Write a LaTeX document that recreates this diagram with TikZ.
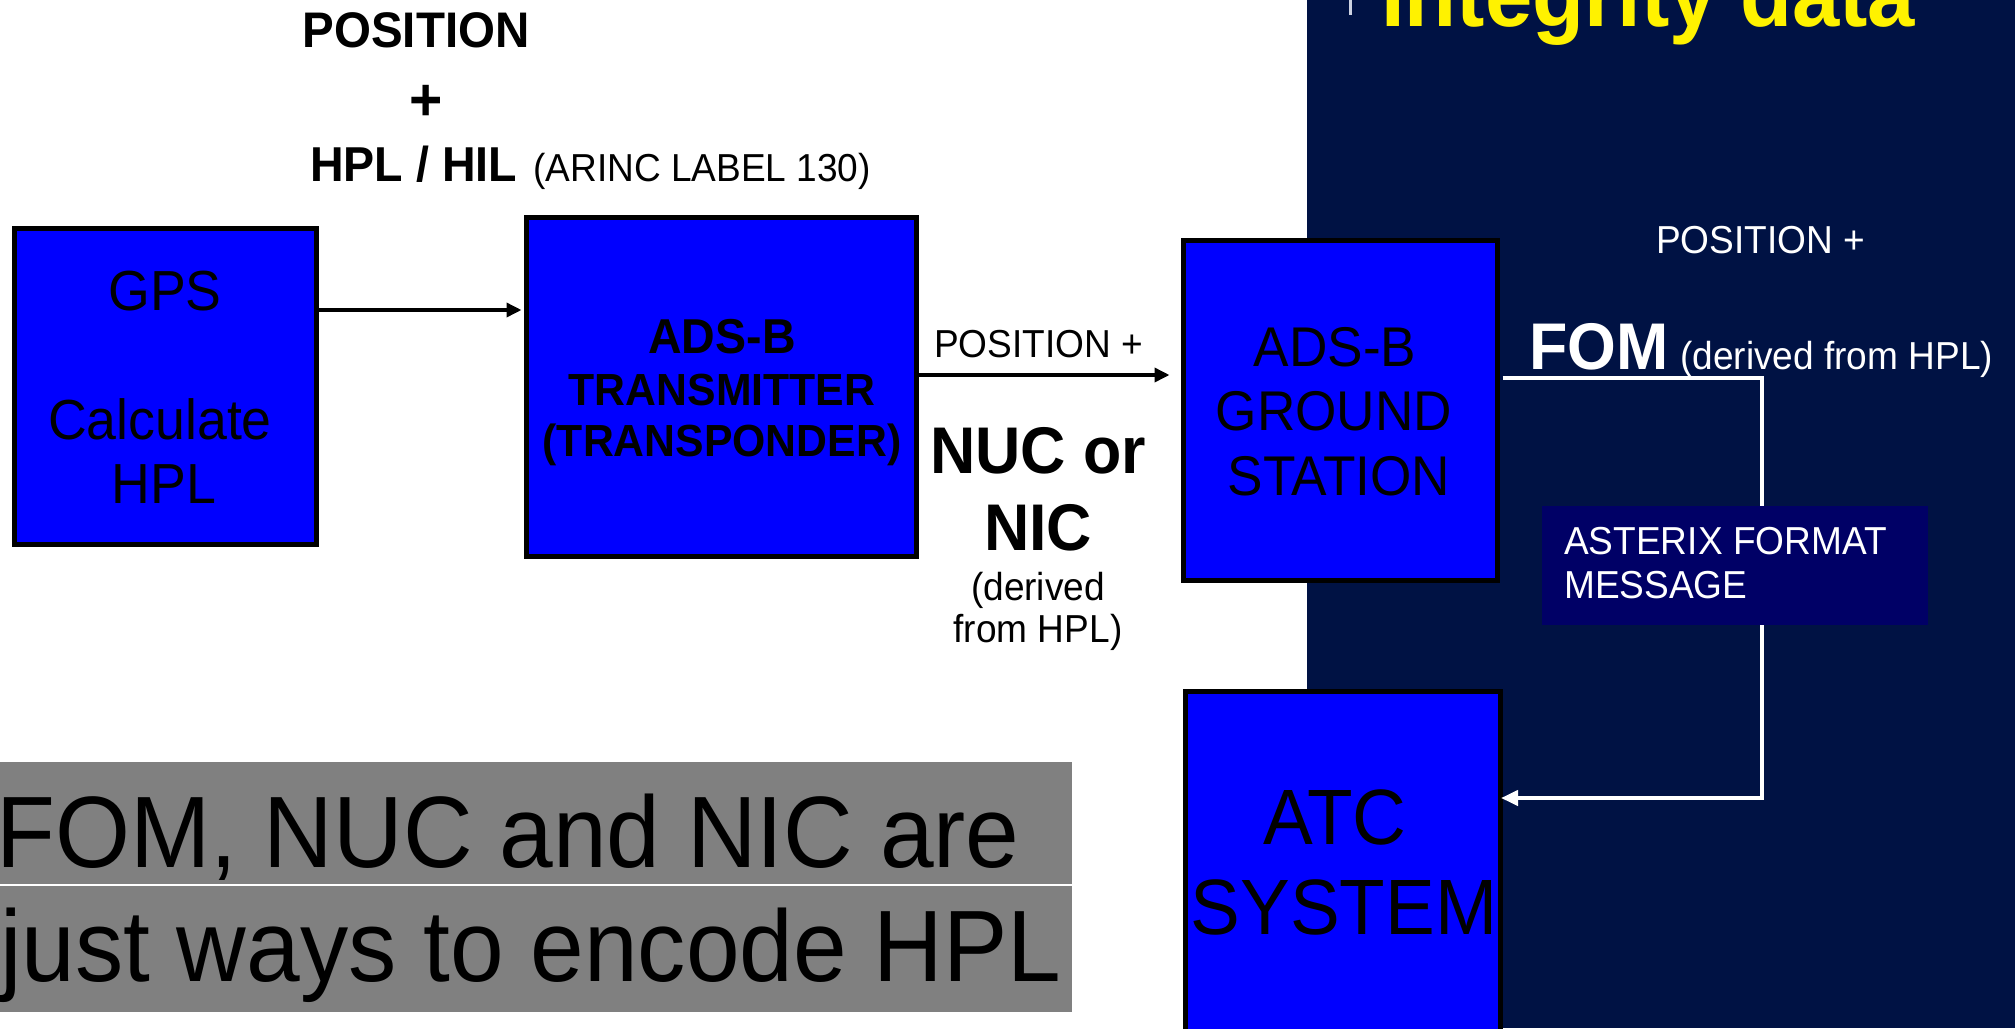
\documentclass[tikz,border=0pt]{standalone}
\usepackage{fontspec}
\setmainfont{Liberation Sans}[FakeStretch=0.95]
\usetikzlibrary{arrows.meta}
\definecolor{panelnavy}{RGB}{0,18,68}
\definecolor{msgnavy}{RGB}{0,0,102}
\definecolor{boxblue}{RGB}{0,0,255}
\definecolor{bandgray}{RGB}{128,128,128}
\definecolor{tickgray}{RGB}{205,210,225}
\newcommand\setfs[1]{\fontsize{#1}{#1}\selectfont}

\begin{document}
\begin{tikzpicture}[x=1pt,y=-1pt,
  unit/.style={draw=black, line width=5pt, fill=boxblue, inner sep=0pt},
  lbl/.style={inner sep=0pt, anchor=base},
  lblw/.style={inner sep=0pt, anchor=base west},
  flow/.style={line width=3.5pt, -{Triangle[length=15pt,width=14pt]}},
  wflow/.style={draw=white, line width=4pt},
]
\useasboundingbox (0,0) rectangle (2015,1028);
\clip (0,0) rectangle (2015,1028);
\fill[white] (0,0) rectangle (2015,1028);

% ground-side panel
\fill[panelnavy] (1307,0) rectangle (2015,1028);
\draw[tickgray, line width=3pt] (1350,0) -- (1350,15);
\node[lblw, text=yellow, font=\setfs{89.5}\bfseries] (title) at (1381,26) {Integrity data};

% processing units
\node[unit, minimum width=302pt, minimum height=316pt] (gps) at (165.5,386.5) {};
\node[unit, minimum width=390pt, minimum height=339pt] (tx)  at (721.5,387) {};
\node[unit, minimum width=314pt, minimum height=340pt] (gs)  at (1340.5,410.5) {};
\node[unit, minimum width=315pt, minimum height=400pt] (atc) at (1343,891.5) {};
\node[fill=msgnavy, inner sep=0pt, minimum width=386pt, minimum height=119pt] (asterix) at (1735,565.5) {};

% unit labels
\node[lbl, font=\setfs{56.5}] (gpsA) at (165,310) {GPS};
\node[lbl, font=\setfs{56.5}] (gpsB) at (160,439) {Calculate};
\node[lbl, font=\setfs{56.5}] (gpsC) at (164,503) {HPL};

\node[lbl, font=\setfs{49}\bfseries] (txA) at (722,353) {ADS-B};
\node[lbl, font=\setfs{45}\bfseries] (txB) at (722,405) {TRANSMITTER};
\node[lbl, font=\setfs{45}\bfseries] (txC) at (722,456) {(TRANSPONDER)};

\node[lbl, font=\setfs{56}] (gsA) at (1335,366) {ADS-B};
\node[lbl, font=\setfs{56}] (gsB) at (1334,430) {GROUND};
\node[lbl, font=\setfs{56}] (gsC) at (1339,495) {STATION};

\node[lbl, font=\setfs{78.5}] (atcA) at (1335,844) {ATC};
\node[lbl, font=\setfs{78.5}] (atcB) at (1344,934) {SYSTEM};

\node[lblw, text=white, font=\setfs{39}] (astA) at (1564,554) {ASTERIX FORMAT};
\node[lblw, text=white, font=\setfs{39}] (astB) at (1564,598) {MESSAGE};

% airborne data path
\coordinate (r1) at (0,310);
\draw[flow, shorten >=2.5pt] (gps.east |- r1) -- (tx.west |- r1);
\coordinate (r2) at (0,375);
\draw[flow, shorten >=11.5pt] (tx.east |- r2) -- (gs.west |- r2);

% ground data path
\coordinate (b1) at (1762,378);
\coordinate (b2) at (1762,798);
\draw[wflow, shorten <=2.5pt] (gs.east |- b1) -- (b1) -- (b1 |- asterix.north);
\draw[wflow, -{Triangle[length=17pt,width=15pt]}, shorten >=-2pt]
  (b1 |- asterix.south) -- (b2) -- (atc.east |- b2);

% GPS output
\node[lbl, font=\setfs{50}\bfseries] (posA) at (416,47) {POSITION};
\node[inner sep=0pt, font=\setfs{60}\bfseries] (plusA) at (426,103) {+};
\node[lblw, font=\setfs{49}\bfseries] (hpl) at (310,181) {HPL / HIL};
\node[lblw, font=\setfs{39}] (arinc) at (533,181) {(ARINC LABEL 130)};

% transmitter output
\node[lblw, font=\setfs{39}] (posB) at (934,357) {POSITION +};
\node[lbl, font=\setfs{66}\bfseries] (nuc) at (1038,473) {NUC or};
\node[lbl, font=\setfs{66}\bfseries] (nic) at (1038,550) {NIC};
\node[lbl, font=\setfs{39}] (derA) at (1038,600) {(derived};
\node[lbl, font=\setfs{39}] (derB) at (1038,642) {from HPL)};

% ground station output
\node[lblw, text=white, font=\setfs{39}] (posC) at (1656,253) {POSITION +};
\node[lblw, text=white, font=\setfs{66}\bfseries] (fom) at (1529,369) {FOM};
\node[lblw, text=white, font=\setfs{39}] (derC) at (1680,369) {(derived from HPL)};

% summary banner
\fill[bandgray] (0,762) rectangle (1072,884);
\fill[bandgray] (0,886) rectangle (1072,1012);
\node[lblw, font=\setfs{101.5}] (sumA) at (-4,867) {FOM, NUC and NIC are};
\node[lblw, font=\setfs{101.5}] (sumB) at (0,981) {just ways to encode HPL};
\end{tikzpicture}
\end{document}
